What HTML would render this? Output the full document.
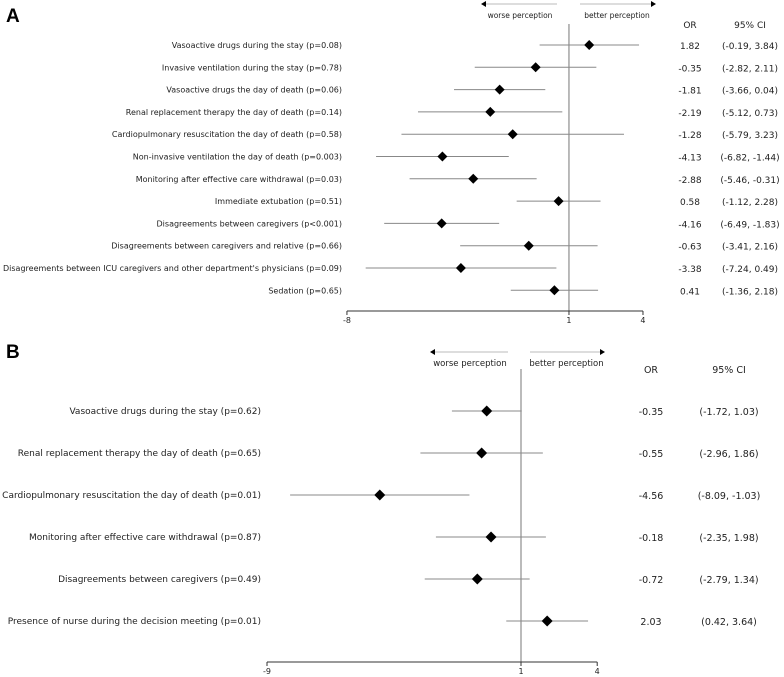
<!DOCTYPE html>
<html><head><meta charset="utf-8"><style>
body{margin:0;background:#fff;}
svg{display:block;font-family:"DejaVu Sans","Liberation Sans",sans-serif;}
</style></head><body>
<svg id="chart" width="784" height="677"></svg>
<script>
const labelsA=["Vasoactive drugs during the stay (p=0.08)","Invasive ventilation during the stay (p=0.78)","Vasoactive drugs the day of death (p=0.06)","Renal replacement therapy the day of death (p=0.14)","Cardiopulmonary resuscitation the day of death (p=0.58)","Non-invasive ventilation the day of death (p=0.003)","Monitoring after effective care withdrawal (p=0.03)","Immediate extubation (p=0.51)","Disagreements between caregivers (p<0.001)","Disagreements between caregivers and relative (p=0.66)","Disagreements between ICU caregivers and other department's physicians (p=0.09)","Sedation (p=0.65)"];
const orA=[1.82,-0.35,-1.81,-2.19,-1.28,-4.13,-2.88,0.58,-4.16,-0.63,-3.38,0.41];
const loA=[-0.19,-2.82,-3.66,-5.12,-5.79,-6.82,-5.46,-1.12,-6.49,-3.41,-7.24,-1.36];
const hiA=[3.84,2.11,0.04,0.73,3.23,-1.44,-0.31,2.28,-1.83,2.16,0.49,2.18];
const ticksA=[-8,1,4];
const labelsB=["Vasoactive drugs during the stay (p=0.62)","Renal replacement therapy the day of death (p=0.65)","Cardiopulmonary resuscitation the day of death (p=0.01)","Monitoring after effective care withdrawal (p=0.87)","Disagreements between caregivers (p=0.49)","Presence of nurse during the decision meeting (p=0.01)"];
const orB=[-0.35,-0.55,-4.56,-0.18,-0.72,2.03];
const loB=[-1.72,-2.96,-8.09,-2.35,-2.79,0.42];
const hiB=[1.03,1.86,-1.03,1.98,1.34,3.64];
const ticksB=[-9,1,4];

const svg=document.getElementById('chart');
const NS='http://www.w3.org/2000/svg';
function mk(tag,attrs,txt){const e=document.createElementNS(NS,tag);for(const k in attrs)e.setAttribute(k,attrs[k]);if(txt!==undefined)e.textContent=txt;svg.appendChild(e);return e;}
function fmt(v){return v.toFixed(2);}

function panel(p){
  const x=v=>p.x0+v*p.ux;
  const y=i=>p.y0+i*p.dy;
  let e=mk('text',{x:6,y:p.letterY,'font-size':19,'font-weight':'bold','font-family':'Liberation Sans, sans-serif'},p.letter);
  
  
  e=mk('line',{x1:p.wl[0],x2:p.wl[1],y1:p.ay,y2:p.ay,stroke:'#bbb','stroke-width':1});
  
  
  mk('polygon',{points:`${p.wl[0]-2},${p.ay} ${p.wl[0]+3},${p.ay-3} ${p.wl[0]+3},${p.ay+3}`,fill:'#000'});
  e=mk('line',{x1:p.bl[0],x2:p.bl[1],y1:p.ay,y2:p.ay,stroke:'#bbb','stroke-width':1});
  
  
  mk('polygon',{points:`${p.bl[1]+2},${p.ay} ${p.bl[1]-3},${p.ay-3} ${p.bl[1]-3},${p.ay+3}`,fill:'#000'});
  e=mk('text',{x:(p.wl[0]+p.wl[1])/2,y:p.ay+14,'font-size':p.afs,'text-anchor':'middle',fill:'#222'},'worse perception');
  
  
  e=mk('text',{x:(p.bl[0]+p.bl[1])/2,y:p.ay+14,'font-size':p.afs,'text-anchor':'middle',fill:'#222'},'better perception');
  
  
  e=mk('text',{x:p.orX,y:p.hY,'font-size':p.vfs,'text-anchor':'middle',fill:'#222'},'OR');
  
  
  e=mk('text',{x:p.ciX,y:p.hY,'font-size':p.vfs,'text-anchor':'middle',fill:'#222'},'95% CI');
  
  
  e=mk('line',{x1:x(1),x2:x(1),y1:p.vTop,y2:p.axisY,stroke:'#777','stroke-width':1});
  
  
  e=mk('line',{x1:x(p.ticks[0]),x2:x(p.ticks[p.ticks.length-1]),y1:p.axisY,y2:p.axisY,stroke:'#333','stroke-width':1});
  
  
  p.ticks.forEach(t=>{
    mk('line',{x1:x(t),x2:x(t),y1:p.axisY,y2:p.axisY+4,stroke:'#333'});
    const tt=mk('text',{x:x(t),y:p.axisY+12,'font-size':8,'text-anchor':'middle',fill:'#222'},String(t));
    
    
  });
  p.labels.forEach((l,i)=>{
    let t=mk('text',{x:p.labX,y:y(i)+3,'font-size':p.fs,'text-anchor':'end',fill:'#222'},l);
    
    
    let c=mk('line',{x1:x(p.lo[i]),x2:x(p.hi[i]),y1:y(i),y2:y(i),stroke:'#888','stroke-width':1});
    
    
    const cx=x(p.or[i]),cy=y(i),r=p.r;
    let d=mk('polygon',{points:`${cx},${cy-r} ${cx+r},${cy} ${cx},${cy+r} ${cx-r},${cy}`,fill:'#000'});
    
    
    t=mk('text',{x:p.orX,y:y(i)+4,'font-size':p.vfs,'text-anchor':'middle',fill:'#222'},fmt(p.or[i]));
    
    
    t=mk('text',{x:p.ciX,y:y(i)+4,'font-size':p.vfs,'text-anchor':'middle',fill:'#222'},`(${fmt(p.lo[i])}, ${fmt(p.hi[i])})`);
    
    
  });
}
panel({letter:'A',letterY:22,x0:544.3,ux:24.67,y0:45,dy:22.3,labels:labelsA,or:orA,lo:loA,hi:hiA,ticks:ticksA,
  axisY:311,vTop:24,labX:342,fs:8,vfs:9,afs:7.5,r:5,orX:690,ciX:750,hY:28,ay:4,wl:[483,557],bl:[580,654]});
panel({letter:'B',letterY:358,x0:495.6,ux:25.4,y0:411,dy:42,labels:labelsB,or:orB,lo:loB,hi:hiB,ticks:ticksB,
  axisY:662,vTop:369,labX:261,fs:9,vfs:9.5,afs:8.5,r:5.5,orX:651,ciX:729,hY:373,ay:352,wl:[432,508],bl:[530,603]});
</script>
</body></html>
